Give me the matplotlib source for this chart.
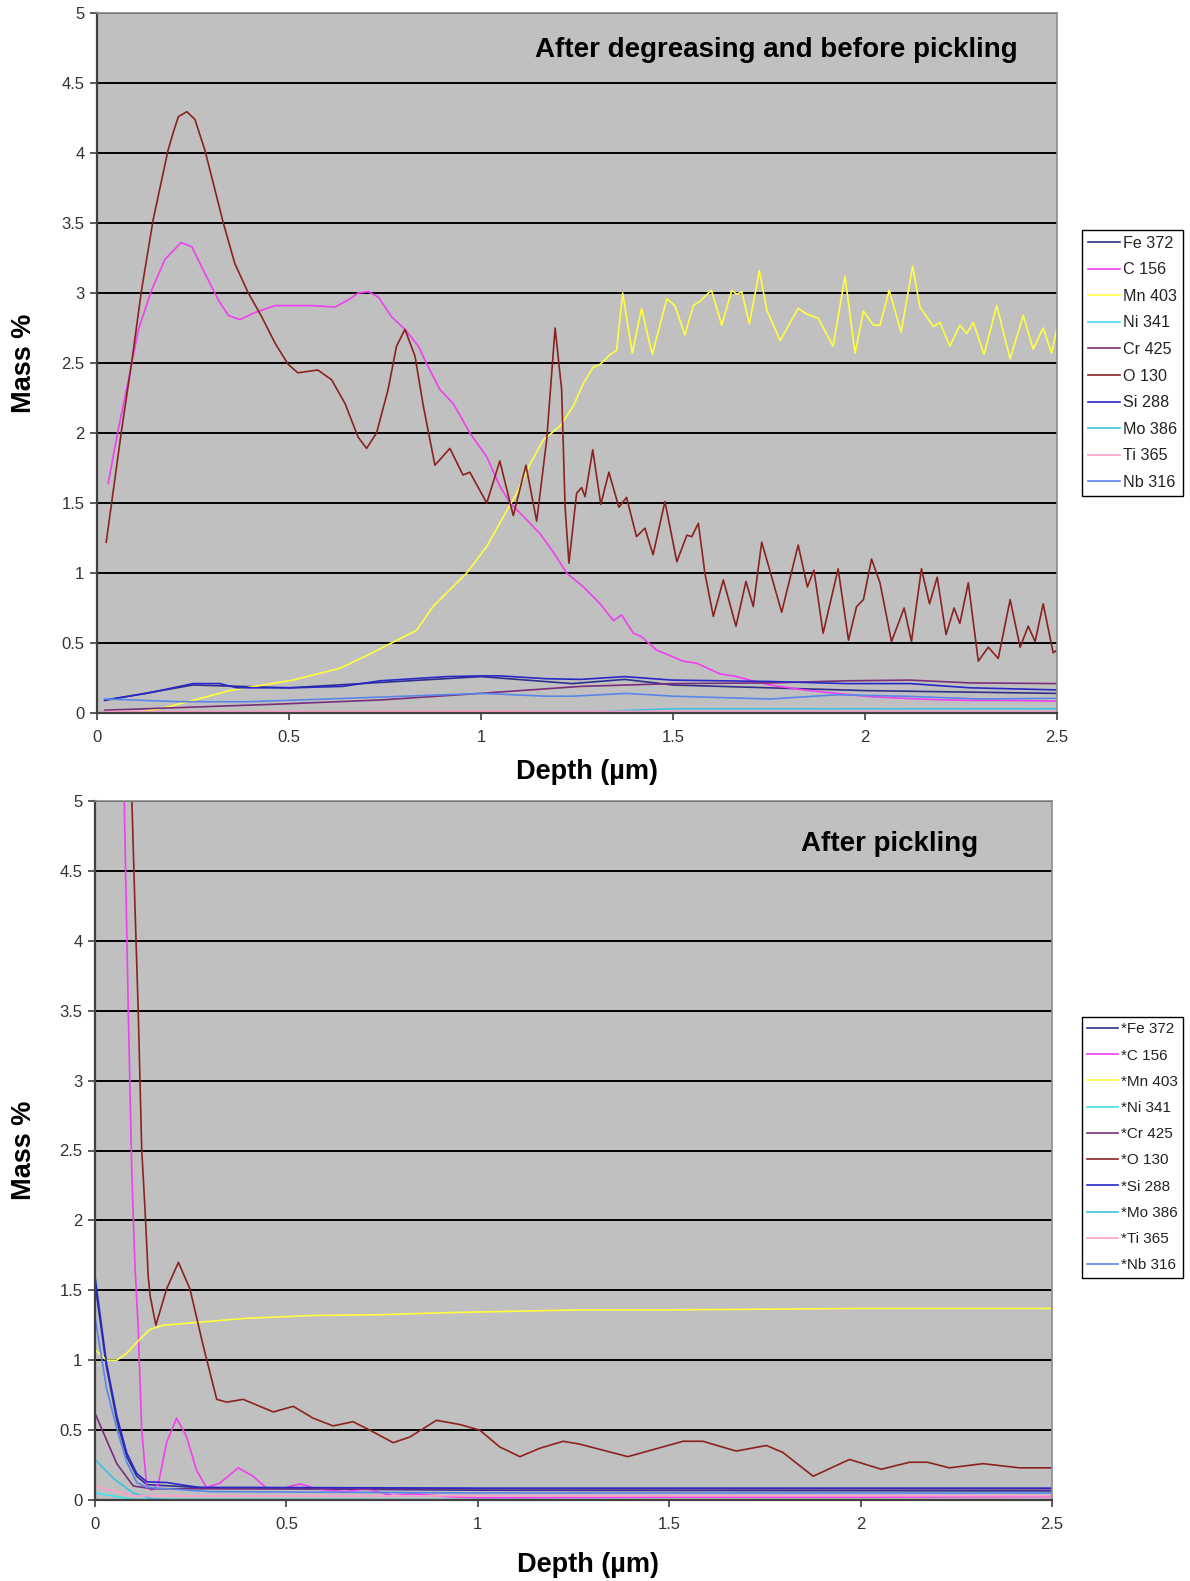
import matplotlib
matplotlib.use("Agg")
import matplotlib.pyplot as plt
from matplotlib.ticker import FuncFormatter

plt.rcParams['font.family'] = ['Liberation Sans', 'DejaVu Sans']

# ---------------- Top chart data: after degreasing, before pickling ----------------
top_O_x = [0.024, 0.064, 0.09, 0.116, 0.146, 0.185, 0.20, 0.212, 0.234, 0.255, 0.281, 0.329, 0.359, 0.394,
           0.429, 0.464, 0.498,
           0.523, 0.575, 0.611, 0.646, 0.68, 0.702, 0.728, 0.758, 0.78, 0.802, 0.828, 0.85, 0.88, 0.919, 0.953,
           0.971, 1.015, 1.049, 1.084, 1.117, 1.145, 1.171, 1.193, 1.21, 1.219, 1.229, 1.249, 1.262, 1.271,
           1.291, 1.312, 1.333, 1.359, 1.379, 1.405, 1.427, 1.448, 1.479, 1.51, 1.536, 1.549, 1.566, 1.583,
           1.605, 1.631, 1.664, 1.69, 1.709, 1.731, 1.753, 1.783, 1.826, 1.85, 1.867, 1.891, 1.93, 1.957, 1.978,
           1.996, 2.017, 2.039, 2.069, 2.102, 2.121, 2.147, 2.168, 2.188, 2.211, 2.232, 2.247, 2.269, 2.295,
           2.321, 2.347, 2.378, 2.404, 2.425, 2.443, 2.464, 2.49, 2.5]
top_O_y = [1.22, 2.02, 2.5, 3.02, 3.52, 4.02, 4.16, 4.26, 4.295, 4.24, 4.02, 3.5, 3.21, 3.0, 2.83, 2.64, 2.49,
           2.43, 2.45, 2.38,
           2.21, 1.97, 1.89, 2.0, 2.31, 2.62, 2.74, 2.55, 2.19, 1.77, 1.89, 1.70, 1.72, 1.50, 1.80, 1.41, 1.77,
           1.37, 1.95, 2.75, 2.31, 1.47, 1.07, 1.57, 1.61, 1.545, 1.88, 1.49, 1.72, 1.47, 1.54, 1.26, 1.32, 1.13,
           1.51, 1.08, 1.27, 1.26, 1.355, 1.0, 0.69, 0.95, 0.62, 0.94, 0.76, 1.22, 1.01, 0.72, 1.2, 0.90, 1.02,
           0.57, 1.03, 0.52, 0.76, 0.81, 1.10, 0.93, 0.51, 0.75, 0.51, 1.03, 0.78, 0.97, 0.56, 0.75, 0.64, 0.93,
           0.37, 0.47, 0.39, 0.81, 0.47, 0.62, 0.51, 0.78, 0.43, 0.45]

top_Mn_x = [0.02, 0.12, 0.18, 0.346, 0.51, 0.633, 0.702, 0.767, 0.832, 0.875, 0.963, 1.015, 1.058, 1.093,
            1.128, 1.162, 1.206, 1.24, 1.266, 1.292, 1.31, 1.336, 1.353, 1.369, 1.394, 1.418, 1.446, 1.484,
            1.505, 1.531, 1.553, 1.57, 1.60, 1.627, 1.653, 1.666, 1.679, 1.699, 1.725, 1.744, 1.779, 1.826,
            1.848, 1.878, 1.917, 1.948, 1.974, 1.996, 2.022, 2.039, 2.063, 2.094, 2.124, 2.143, 2.178, 2.195,
            2.221, 2.247, 2.265, 2.282, 2.31, 2.343, 2.378, 2.412, 2.438, 2.464, 2.486, 2.5]
top_Mn_y = [0.0, 0.01, 0.04, 0.16, 0.235, 0.32, 0.41, 0.50, 0.59, 0.76, 1.0, 1.19, 1.40, 1.57, 1.78, 1.95,
            2.05, 2.19, 2.35, 2.47, 2.49, 2.56, 2.59, 3.0, 2.57, 2.89, 2.56, 2.96, 2.91, 2.70, 2.91, 2.94, 3.02,
            2.77, 3.02, 2.99, 3.01, 2.78, 3.16, 2.88, 2.66, 2.89, 2.85, 2.82, 2.62, 3.12, 2.57, 2.87, 2.77, 2.77,
            3.02, 2.72, 3.19, 2.90, 2.76, 2.79, 2.62, 2.77, 2.71, 2.79, 2.56, 2.91, 2.53, 2.84, 2.60, 2.75, 2.57,
            2.75]

top_C_x = [0.029, 0.055, 0.082, 0.108, 0.142, 0.177, 0.219, 0.247, 0.281, 0.316, 0.342, 0.372, 0.411, 0.464,
           0.516, 0.56, 0.62, 0.654, 0.68, 0.707, 0.733, 0.767, 0.802, 0.837, 0.854, 0.893, 0.928, 0.971,
           1.015, 1.049, 1.076, 1.119, 1.154, 1.188, 1.223, 1.267, 1.31, 1.345, 1.366, 1.397, 1.418, 1.457,
           1.527, 1.562, 1.622, 1.666, 1.70, 1.753, 1.839, 1.926, 2.013, 2.1, 2.187, 2.273, 2.36, 2.5]
top_C_y = [1.64, 2.02, 2.38, 2.74, 3.02, 3.24, 3.36, 3.33, 3.14, 2.95, 2.84, 2.81, 2.86, 2.91, 2.91, 2.91,
           2.90, 2.95, 3.0, 3.01, 2.97, 2.83, 2.74, 2.62, 2.52, 2.31, 2.21, 2.0, 1.83, 1.62, 1.50, 1.38, 1.28,
           1.15, 1.0, 0.90, 0.78, 0.66, 0.70, 0.57, 0.545, 0.45, 0.37, 0.355, 0.28, 0.26, 0.235, 0.2, 0.165,
           0.14, 0.117, 0.105, 0.095, 0.09, 0.09, 0.085]

top_Si_x = [0.02, 0.129, 0.25, 0.32, 0.364, 0.51, 0.64, 0.737, 0.824, 0.911, 0.998, 1.05, 1.17, 1.259, 1.374,
            1.497, 1.753, 1.952, 2.117, 2.273, 2.5]
top_Si_y = [0.093, 0.14, 0.21, 0.21, 0.18, 0.18, 0.19, 0.23, 0.245, 0.26, 0.265, 0.265, 0.245, 0.24, 0.26,
            0.235, 0.225, 0.21, 0.21, 0.18, 0.165]

top_Fe_x = [0.02, 0.25, 0.5, 1.0, 1.237, 1.374, 1.5, 1.75, 2.0, 2.25, 2.5]
top_Fe_y = [0.09, 0.2, 0.18, 0.26, 0.21, 0.24, 0.2, 0.18, 0.16, 0.15, 0.14]

top_Cr_x = [0.02, 0.477, 0.737, 0.998, 1.259, 1.5, 1.753, 1.952, 2.117, 2.273, 2.5]
top_Cr_y = [0.02, 0.064, 0.093, 0.14, 0.19, 0.21, 0.215, 0.23, 0.235, 0.215, 0.21]

top_Nb_x = [0.02, 0.216, 0.39, 0.65, 1.0, 1.17, 1.237, 1.38, 1.5, 1.753, 1.926, 2.1, 2.3, 2.5]
top_Nb_y = [0.1, 0.081, 0.08, 0.105, 0.14, 0.12, 0.12, 0.14, 0.12, 0.1, 0.13, 0.12, 0.1, 0.105]

top_Ti_x = [0.02, 1.0, 2.5]
top_Ti_y = [0.01, 0.012, 0.01]

top_Mo_x = [0.02, 1.3, 1.5, 2.0, 2.5]
top_Mo_y = [0.0, 0.01, 0.03, 0.03, 0.03]

top_Ni_x = [0.02, 2.5]
top_Ni_y = [0.0, 0.005]

# ---------------- Bottom chart data: after pickling ----------------
bot_O_x = [0.0, 0.05, 0.09, 0.104, 0.113, 0.122, 0.131, 0.139, 0.144, 0.159, 0.187, 0.218, 0.248, 0.283,
           0.318, 0.344, 0.387, 0.413, 0.466, 0.518, 0.57, 0.622, 0.674, 0.718, 0.779, 0.822, 0.892, 0.953,
           1.005, 1.057, 1.11, 1.162, 1.223, 1.266, 1.392, 1.536, 1.588, 1.675, 1.754, 1.797, 1.876, 1.971,
           2.054, 2.128, 2.175, 2.232, 2.32, 2.415, 2.5]
bot_O_y = [9.0, 7.5, 5.6, 4.28, 3.49, 2.51, 2.06, 1.6, 1.46, 1.25, 1.51, 1.70, 1.51, 1.10, 0.72, 0.70, 0.72,
           0.69, 0.63, 0.67, 0.585, 0.53, 0.56, 0.50, 0.41, 0.45, 0.57, 0.54, 0.50, 0.38, 0.31, 0.37, 0.42,
           0.40, 0.31, 0.42, 0.42, 0.35, 0.39, 0.34, 0.17, 0.29, 0.22, 0.27, 0.27, 0.23, 0.26, 0.23, 0.23]

bot_C_x = [0.0, 0.05, 0.075, 0.087, 0.096, 0.104, 0.113, 0.122, 0.135, 0.148, 0.165, 0.187, 0.213, 0.239,
           0.265, 0.291, 0.326, 0.374, 0.413, 0.448, 0.492, 0.535, 0.587, 0.657, 0.709, 0.779, 0.83, 0.918,
           1.0, 1.5, 2.0, 2.5]
bot_C_y = [9.0, 7.0, 5.2, 3.49, 2.36, 1.7, 1.22, 0.5, 0.095, 0.07, 0.11, 0.41, 0.585, 0.455, 0.215, 0.09,
           0.12, 0.23, 0.17, 0.085, 0.085, 0.115, 0.075, 0.06, 0.08, 0.03, 0.045, 0.025, 0.015, 0.02, 0.02,
           0.025]

bot_Mn_x = [0.0, 0.03, 0.057, 0.083, 0.117, 0.144, 0.178, 0.222, 0.309, 0.396, 0.57, 0.744, 0.918, 1.092,
            1.266, 1.5, 2.0, 2.5]
bot_Mn_y = [1.075, 1.0, 1.0, 1.05, 1.15, 1.22, 1.25, 1.26, 1.28, 1.30, 1.32, 1.325, 1.34, 1.35, 1.36, 1.36,
            1.37, 1.37]

bot_Si_x = [0.0, 0.03, 0.057, 0.083, 0.109, 0.135, 0.187, 0.222, 0.274, 0.396, 1.0, 1.5, 2.0, 2.5]
bot_Si_y = [1.6, 0.98, 0.60, 0.335, 0.19, 0.13, 0.125, 0.11, 0.09, 0.09, 0.085, 0.085, 0.085, 0.085]

bot_Fe_x = [0.0, 0.03, 0.057, 0.083, 0.109, 0.135, 0.2, 0.3, 1.0, 2.5]
bot_Fe_y = [1.55, 0.95, 0.57, 0.31, 0.17, 0.11, 0.1, 0.085, 0.07, 0.065]

bot_Nb_x = [0.0, 0.03, 0.057, 0.083, 0.109, 0.135, 0.3, 1.0, 2.5]
bot_Nb_y = [1.31, 0.8, 0.51, 0.27, 0.125, 0.09, 0.06, 0.05, 0.05]

bot_Cr_x = [0.0, 0.057, 0.1, 0.15, 0.3, 1.0, 2.5]
bot_Cr_y = [0.62, 0.26, 0.1, 0.08, 0.08, 0.08, 0.08]

bot_Mo_x = [0.0, 0.05, 0.1, 0.15, 0.2, 2.5]
bot_Mo_y = [0.29, 0.15, 0.05, 0.01, 0.0, 0.0]

bot_Ni_x = [0.0, 0.1, 2.5]
bot_Ni_y = [0.05, 0.005, 0.0]

bot_Ti_x = [0.0, 0.1, 2.5]
bot_Ti_y = [0.1, 0.03, 0.03]

series_names = ['Fe 372', 'C 156', 'Mn 403', 'Ni 341', 'Cr 425', 'O 130', 'Si 288', 'Mo 386', 'Ti 365', 'Nb 316']
series_colors = ['#30308C', '#F040F0', '#FFFF40', '#40E0F0', '#7A2E7A', '#8B2222', '#2828C8', '#40C0E0',
                 '#FFA0C8', '#5A86E8']

top_series = [(top_Fe_x, top_Fe_y), (top_C_x, top_C_y), (top_Mn_x, top_Mn_y), (top_Ni_x, top_Ni_y),
              (top_Cr_x, top_Cr_y), (top_O_x, top_O_y), (top_Si_x, top_Si_y), (top_Mo_x, top_Mo_y),
              (top_Ti_x, top_Ti_y), (top_Nb_x, top_Nb_y)]
bot_series = [(bot_Fe_x, bot_Fe_y), (bot_C_x, bot_C_y), (bot_Mn_x, bot_Mn_y), (bot_Ni_x, bot_Ni_y),
              (bot_Cr_x, bot_Cr_y), (bot_O_x, bot_O_y), (bot_Si_x, bot_Si_y), (bot_Mo_x, bot_Mo_y),
              (bot_Ti_x, bot_Ti_y), (bot_Nb_x, bot_Nb_y)]

x_ticks = [0, 0.5, 1, 1.5, 2, 2.5]
y_ticks = [0, 0.5, 1, 1.5, 2, 2.5, 3, 3.5, 4, 4.5, 5]

W, H = 1190, 1581
fig = plt.figure(figsize=(W / 100, H / 100), dpi=100)
fig.patch.set_facecolor('white')


def style_axes(ax):
    ax.set_facecolor('#C0C0C0')
    ax.set_xlim(0, 2.5)
    ax.set_ylim(0, 5)
    ax.set_xticks(x_ticks)
    ax.set_yticks(y_ticks)
    fmt = FuncFormatter(lambda v, p: ('%g' % v))
    ax.xaxis.set_major_formatter(fmt)
    ax.yaxis.set_major_formatter(fmt)
    ax.grid(axis='y', color='black', linewidth=1.4)
    ax.set_axisbelow(True)
    for s in ['top', 'right']:
        ax.spines[s].set_color('#8C8C8C')
        ax.spines[s].set_linewidth(1.2)
    for s in ['left', 'bottom']:
        ax.spines[s].set_color('#404040')
        ax.spines[s].set_linewidth(1.6)
    ax.tick_params(axis='both', direction='out', length=5, width=1.2, color='#404040',
                   labelsize=12, labelcolor='#333333')
    ax.tick_params(axis='x', pad=7)
    ax.tick_params(axis='y', pad=4)


def draw(ax, series, prefix, legend_top, fsize, spacing):
    handles = []
    for (xs, ys), name, col in zip(series, series_names, series_colors):
        h, = ax.plot(xs, ys, color=col, linewidth=1.2, label=prefix + name, clip_on=True)
        handles.append(h)
    leg = fig.legend(handles=handles, loc='upper left', bbox_to_anchor=(1082 / W, 1 - legend_top / H),
                     bbox_transform=fig.transFigure, fontsize=fsize, frameon=True, fancybox=False,
                     edgecolor='black', framealpha=1, handlelength=2.0, handletextpad=0.2,
                     labelspacing=spacing, borderpad=0.35, borderaxespad=0)
    leg.get_frame().set_linewidth(1.0)
    for t in leg.get_texts():
        t.set_color('#222222')


ax1 = fig.add_axes([97 / W, 1 - 713 / H, 960 / W, 700 / H])
style_axes(ax1)
draw(ax1, top_series, '', 230, 11.6, 0.72)

ax2 = fig.add_axes([95 / W, 1 - 1500 / H, 957 / W, 699 / H])
style_axes(ax2)
draw(ax2, bot_series, '*', 1017, 11.0, 0.8)

fig.text(776 / W, 1 - 50 / H, 'After degreasing and before pickling', ha='center', va='center',
         fontsize=20, fontweight='bold', color='black')
fig.text(890 / W, 1 - 844 / H, 'After pickling', ha='center', va='center',
         fontsize=20, fontweight='bold', color='black')

fig.text(24 / W, 1 - 363 / H, 'Mass %', rotation=90, ha='center', va='center', fontsize=19.5, fontweight='bold')
fig.text(24 / W, 1 - 1150 / H, 'Mass %', rotation=90, ha='center', va='center', fontsize=19.5, fontweight='bold')
fig.text(587 / W, 1 - 772 / H, 'Depth (\u00b5m)', ha='center', va='center', fontsize=19.5, fontweight='bold')
fig.text(588 / W, 1 - 1565 / H, 'Depth (\u00b5m)', ha='center', va='center', fontsize=19.5, fontweight='bold')

fig.savefig('out.png', dpi=100, facecolor='white')
